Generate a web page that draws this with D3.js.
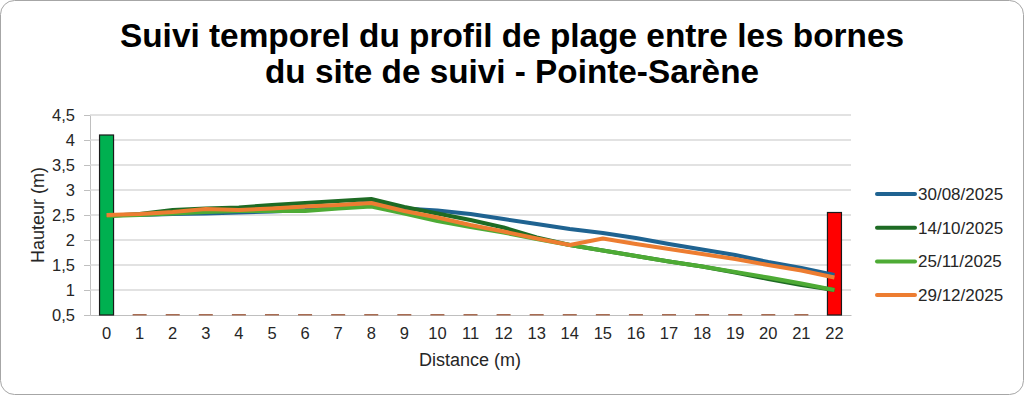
<!DOCTYPE html>
<html>
<head>
<meta charset="utf-8">
<script src="https://cdn.jsdelivr.net/npm/d3@7"></script>
<style>
  body { margin: 0; background: #fff; }
  text { font-family: "Liberation Sans", Arial, sans-serif; fill: #262626; }
</style>
</head>
<body>
<div id="chart"></div>
<script>
const distances = d3.range(0, 23);
const seriesNames = ["30/08/2025", "14/10/2025", "25/11/2025", "29/12/2025"];
const seriesColors = ["#1f6391", "#1e6b24", "#4eab35", "#ed7d31"];

const s3008 = [2.5, 2.5, 2.52, 2.53, 2.55, 2.57, 2.6, 2.68, 2.76, 2.63, 2.59, 2.52, 2.42, 2.32, 2.22, 2.14, 2.04, 1.92, 1.81, 1.7, 1.56, 1.44, 1.3];
const s1410 = [2.48, 2.52, 2.6, 2.63, 2.65, 2.7, 2.74, 2.78, 2.82, 2.66, 2.53, 2.4, 2.25, 2.05, 1.9, 1.79, 1.68, 1.57, 1.47, 1.35, 1.22, 1.1, 1.0];
const s2511 = [2.48, 2.5, 2.53, 2.56, 2.58, 2.58, 2.58, 2.63, 2.67, 2.53, 2.38, 2.26, 2.15, 2.02, 1.9, 1.79, 1.68, 1.57, 1.47, 1.36, 1.25, 1.13, 1.0];
const s2912 = [2.5, 2.52, 2.56, 2.62, 2.6, 2.63, 2.67, 2.7, 2.74, 2.58, 2.45, 2.3, 2.17, 2.03, 1.9, 2.03, 1.92, 1.82, 1.72, 1.62, 1.5, 1.39, 1.25];
const seriesValues = [s3008, s1410, s2511, s2912];

// bornes : hauteur des bornes (0,5 = pas de borne)
const bornes = [4.1, 0.5, 0.5, 0.5, 0.5, 0.5, 0.5, 0.5, 0.5, 0.5, 0.5, 0.5, 0.5, 0.5, 0.5, 0.5, 0.5, 0.5, 0.5, 0.5, 0.5, 0.5, 2.55];
const borneColors = ["#00b050", "#ff0000"];

const yTicks = [0.5, 1, 1.5, 2, 2.5, 3, 3.5, 4, 4.5];
const yTickLabels = ["0,5", "1", "1,5", "2", "2,5", "3", "3,5", "4", "4,5"];

const width = 1024, height = 395;
const plotLeft = 90, plotRight = 851, plotTop = 115, plotBottom = 315;

const svg = d3.select("#chart").append("svg")
  .attr("width", width)
  .attr("height", height);

svg.append("rect")
  .attr("x", 0.5).attr("y", 0.5)
  .attr("width", width - 1).attr("height", height - 1)
  .attr("rx", 14)
  .attr("fill", "#fff")
  .attr("stroke", "#a6a6a6");

// titre
const title = svg.append("g").attr("font-weight", "bold");
title.append("text")
  .attr("x", 512).attr("y", 47)
  .attr("text-anchor", "middle")
  .style("font-size", "34px").style("fill", "#000")
  .attr("textLength", 784).attr("lengthAdjust", "spacingAndGlyphs")
  .text("Suivi temporel du profil de plage entre les bornes");
title.append("text")
  .attr("x", 512).attr("y", 83)
  .attr("text-anchor", "middle")
  .style("font-size", "34px").style("fill", "#000")
  .attr("textLength", 494).attr("lengthAdjust", "spacingAndGlyphs")
  .text("du site de suivi - Pointe-Sarène");

const x = d3.scaleBand().domain(distances).range([plotLeft, plotRight]).padding(0);
const y = d3.scaleLinear().domain([0.5, 4.5]).range([plotBottom, plotTop]);
const cx = d => x(d) + x.bandwidth() / 2;

// grille + axe y
const yAxis = svg.append("g")
  .attr("transform", "translate(" + plotLeft + ",0)")
  .call(d3.axisLeft(y).tickValues(yTicks).tickSize(6).tickPadding(9)
    .tickFormat((d, i) => yTickLabels[i]));
yAxis.select(".domain").attr("stroke", "#bfbfbf");
yAxis.selectAll(".tick line").attr("stroke", "#bfbfbf");
yAxis.selectAll(".tick text").style("font-size", "16.5px").style("font-family", "Liberation Sans, Arial, sans-serif").attr("fill", "#262626");

svg.append("g")
  .selectAll("line")
  .data(yTicks.slice(1))
  .enter()
  .append("line")
  .attr("x1", plotLeft).attr("x2", plotRight)
  .attr("y1", d => y(d)).attr("y2", d => y(d))
  .attr("stroke", "#d9d9d9").attr("stroke-width", 1.3);

// axe x
const xAxis = svg.append("g")
  .attr("transform", "translate(0," + plotBottom + ")")
  .call(d3.axisBottom(x).tickSize(0).tickPadding(12));
xAxis.select(".domain").attr("stroke", "#bfbfbf");
xAxis.selectAll(".tick text").style("font-size", "16.5px").style("font-family", "Liberation Sans, Arial, sans-serif").attr("fill", "#262626");

// bornes
const barW = 14;
svg.append("g")
  .selectAll("rect")
  .data(bornes)
  .enter()
  .append("rect")
  .attr("x", (d, i) => cx(i) - barW / 2)
  .attr("y", d => d > 0.5 ? y(d) : plotBottom - 1)
  .attr("width", barW)
  .attr("height", d => d > 0.5 ? plotBottom - y(d) : 1.5)
  .attr("fill", (d, i) => d > 0.5 ? (i === 0 ? borneColors[0] : borneColors[1]) : "#a86c52")
  .attr("stroke", d => d > 0.5 ? "#1a1a1a" : "none")
  .attr("stroke-width", 1.2);

// courbes
const line = d3.line()
  .x((d, i) => cx(distances[i]))
  .y(d => y(d));

svg.append("g")
  .selectAll("path")
  .data(seriesValues)
  .enter()
  .append("path")
  .attr("d", line)
  .attr("fill", "none")
  .attr("stroke", (d, i) => seriesColors[i])
  .attr("stroke-width", 4)
  .attr("stroke-linejoin", "round");

// titres des axes
svg.append("text")
  .attr("transform", "translate(44," + ((plotTop + plotBottom) / 2) + ") rotate(-90)")
  .attr("text-anchor", "middle")
  .style("font-size", "18px")
  .text("Hauteur (m)");

svg.append("text")
  .attr("x", 470).attr("y", 366)
  .attr("text-anchor", "middle")
  .style("font-size", "18px")
  .text("Distance (m)");

// légende
const legend = svg.append("g")
  .selectAll("g")
  .data(seriesNames)
  .enter()
  .append("g")
  .attr("transform", (d, i) => "translate(877," + (194 + i * 33.7) + ")");

legend.append("line")
  .attr("x1", 0).attr("x2", 38)
  .attr("stroke", (d, i) => seriesColors[i])
  .attr("stroke-width", 4)
  .attr("stroke-linecap", "round");

legend.append("text")
  .attr("x", 41).attr("y", 6)
  .style("font-size", "17px")
  .text(d => d);
</script>
</body>
</html>
